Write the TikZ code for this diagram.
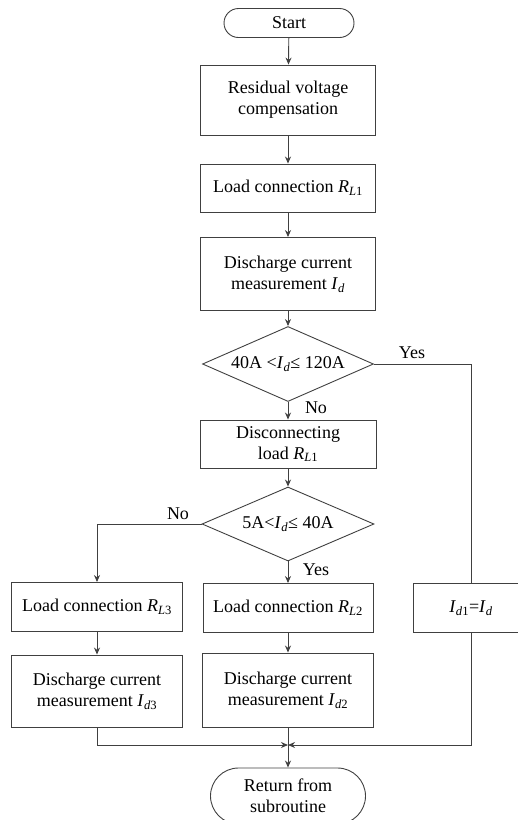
\documentclass[tikz,border=0pt]{standalone}
\usepackage{fontspec}
\setmainfont{Liberation Serif}
\usetikzlibrary{shapes.geometric,shapes.misc,arrows.meta}

% italic quantity with a small index
\newcommand{\qsub}[2]{\textit{#1}\textsubscript{#2}}

\tikzset{
    line/.style={draw=black!75, line width=0.9pt},
    flow/.style={line, -{Stealth[length=7pt,width=6pt]}},
    procbox/.style={line, rectangle, minimum width=175pt, minimum height=48pt,
        align=center, inner sep=2pt, font=\fontsize{18}{21}\selectfont},
    termbox/.style={line, rounded rectangle, minimum width=134pt, minimum height=29pt,
        align=center, inner sep=2pt, font=\fontsize{18}{21}\selectfont},
    testbox/.style={line, diamond, aspect=2.3, minimum width=172pt, minimum height=75pt,
        inner sep=0pt, font=\fontsize{18}{21}\selectfont},
    tag/.style={font=\fontsize{18}{21}\selectfont}
}

\begin{document}
\begin{tikzpicture}[x=1pt,y=-1pt]
    \useasboundingbox (0,0) rectangle (518,820);

    % Main column
    \node (start) at (289,23) [termbox] {Start};
    \node (resid) at (288,100) [procbox, minimum height=70pt] {Residual voltage\\compensation};
    \node (load1) at (288,188) [procbox] {Load connection \qsub{R}{\textit{L}1}};
    \node (meas1) at (288,274) [procbox, minimum height=73pt] {Discharge current\\measurement \qsub{I}{\textit{d}}};
    \node (test1) at (288,364) [testbox, minimum width=171pt] {40A <\qsub{I}{\textit{d}}≤ 120A};
    \node (disc) at (288,444) [procbox, minimum width=176pt] {Disconnecting\\load \qsub{R}{\textit{L}1}};
    \node (test2) at (288,524) [testbox, minimum height=74pt] {5A<\qsub{I}{\textit{d}}≤ 40A};

    % Branches
    \node (load3) at (97,607) [procbox, minimum width=171pt, minimum height=49pt] {Load connection \qsub{R}{\textit{L}3}};
    \node (meas3) at (97,691) [procbox, minimum width=171pt, minimum height=72pt] {Discharge current\\measurement \qsub{I}{\textit{d}3}};
    \node (load2) at (288,608) [procbox, minimum width=170pt, minimum height=49pt] {Load connection \qsub{R}{\textit{L}2}};
    \node (meas2) at (288,690) [procbox, minimum width=171pt, minimum height=74pt] {Discharge current\\measurement \qsub{I}{\textit{d}2}};
    \node (copy) at (471,608) [procbox, minimum width=116pt, minimum height=49pt] {\qsub{I}{\textit{d}1}=\qsub{I}{\textit{d}}};
    \node (ret) at (288,796) [termbox, minimum width=159pt, minimum height=56pt] {Return from\\subroutine};

    \coordinate (merge) at (288,745);

    % Arrows
    \draw [flow] (start) -- (resid);
    \draw [flow] (resid) -- (load1);
    \draw [flow] (load1) -- (meas1);
    \draw [flow] (meas1) -- (test1);
    \draw [flow] (test1) -- (disc);
    \draw [flow] (disc) -- (test2);
    \draw [flow] (test2) -- (load2);
    \draw [flow] (test2.west) -| (load3.north);
    \draw [flow] (load3) -- (meas3);
    \draw [flow] (load2) -- (meas2);
    \draw [line] (test1.east) -| (copy.north);
    \draw [flow] (meas3.south) |- (merge);
    \draw [flow] (copy.south) |- (merge);
    \draw [flow] (meas2) -- (ret);

    % Labels
    \node at (412,353) [tag] {Yes};
    \node at (316,408) [tag] {No};
    \node at (178,514) [tag] {No};
    \node at (316,570) [tag] {Yes};
\end{tikzpicture}
\end{document}
